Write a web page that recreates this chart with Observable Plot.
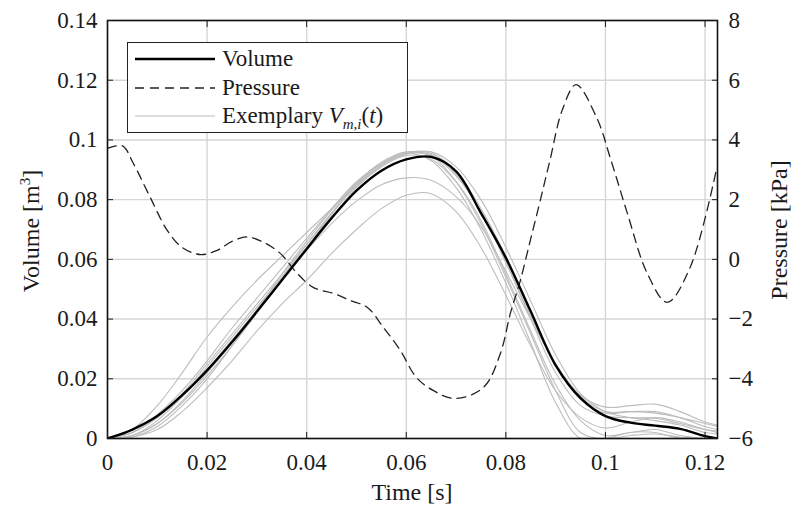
<!DOCTYPE html>
<html><head><meta charset="utf-8">
<script src="https://cdn.jsdelivr.net/npm/d3@7"></script>
<script src="https://cdn.jsdelivr.net/npm/@observablehq/plot@0.6"></script>
<style>
body{margin:0;background:#fff;}
#wrap{position:relative;width:794px;height:511px;font-family:"Liberation Serif","Tinos","Times New Roman","DejaVu Serif",serif;color:#1a1a1a;overflow:hidden;}
.lab{position:absolute;font-size:24px;white-space:nowrap;transform:translate(-50%,-50%);line-height:1;}
.rot{transform:translate(-50%,-50%) rotate(-90deg);}
#legend{position:absolute;left:127px;top:42px;width:279px;height:89px;border:1.6px solid #222;background:#fff;font-size:23px;}
.row{position:absolute;left:0;height:28px;display:flex;align-items:center;}
.row svg{margin-left:7px;margin-right:7px;}
</style></head><body>
<div id="wrap"></div>
<script>
// ---- data ----
const time = [0,0.005,0.01,0.015,0.02,0.025,0.03,0.035,0.04,0.045,0.05,0.055,0.06,0.065,0.07,0.075,0.08,0.085,0.09,0.095,0.1,0.105,0.11,0.115,0.12,0.1225];
const volume = [0,0.003,0.0075,0.0145,0.0228,0.0323,0.0425,0.0530,0.0635,0.0738,0.0830,0.0897,0.0935,0.0943,0.0895,0.0755,0.0605,0.0425,0.0245,0.0135,0.0075,0.0053,0.0043,0.0032,0.0008,0];
const vm1 = [0,0.003,0.011,0.022,0.034,0.044,0.053,0.061,0.069,0.077,0.085,0.091,0.0952,0.0948,0.088,0.076,0.059,0.041,0.025,0.0145,0.0105,0.011,0.0115,0.009,0.0055,0.0045];
const vm2 = [0,0.0005,0.003,0.009,0.017,0.026,0.036,0.045,0.053,0.062,0.070,0.077,0.0815,0.082,0.076,0.064,0.048,0.031,0.016,0.007,0.0035,0.0055,0.007,0.0055,0.003,0.002];
const vm3 = [0,0.002,0.007,0.014,0.023,0.033,0.043,0.053,0.063,0.072,0.0795,0.085,0.0873,0.0865,0.081,0.071,0.056,0.040,0.025,0.014,0.009,0.009,0.0085,0.007,0.005,0.004];
const vm4 = [0,0.001,0.005,0.012,0.021,0.031,0.042,0.053,0.064,0.075,0.085,0.092,0.0955,0.093,0.084,0.070,0.052,0.032,0.012,0,0,0.002,0.002,0,0,0];
const vm5 = [0,0.002,0.007,0.015,0.025,0.035,0.045,0.055,0.065,0.0755,0.0855,0.0925,0.096,0.0945,0.086,0.072,0.054,0.035,0.016,0.002,0,0.001,0.0015,0.0005,0,0];
const vm6 = [0,0.002,0.008,0.016,0.026,0.037,0.047,0.057,0.067,0.077,0.086,0.092,0.0955,0.095,0.0885,0.076,0.059,0.040,0.022,0.011,0.0075,0.007,0.0068,0.005,0.003,0.0025];
const vm7 = [0,0.0005,0.004,0.011,0.020,0.031,0.043,0.055,0.066,0.0765,0.0855,0.092,0.0958,0.0955,0.0895,0.077,0.061,0.043,0.025,0.013,0.0085,0.009,0.009,0.007,0.004,0.003];
const vm8 = [0,0.001,0.005,0.0125,0.022,0.032,0.043,0.054,0.065,0.0755,0.0845,0.0915,0.0955,0.096,0.091,0.080,0.064,0.046,0.028,0.015,0.009,0.007,0.006,0.0045,0.002,0.0015];
const vm9 = [0,0.001,0.006,0.014,0.024,0.034,0.044,0.054,0.064,0.074,0.084,0.091,0.0948,0.0935,0.086,0.073,0.055,0.036,0.018,0.006,0.001,0.002,0.003,0.001,0,0];
const pTime = [0,0.003,0.0052,0.0086,0.012,0.015,0.0187,0.022,0.025,0.028,0.031,0.0347,0.038,0.0413,0.0454,0.0488,0.0522,0.0554,0.0588,0.062,0.0654,0.0698,0.0755,0.0789,0.0809,0.0829,0.0849,0.0869,0.0889,0.0913,0.0941,0.0983,0.101,0.1044,0.1084,0.1124,0.117,0.1224];
const pressure = [3.72,3.8,3.21,2.07,0.97,0.4,0.16,0.3,0.6,0.75,0.6,0.2,-0.45,-0.94,-1.14,-1.38,-1.61,-2.28,-3.05,-3.95,-4.39,-4.66,-4.29,-3.15,-1.81,-0.71,0.63,1.97,3.35,4.99,5.85,4.72,3.38,1.54,-0.47,-1.44,-0.27,3.1];
const xTicks = [0,0.02,0.04,0.06,0.08,0.1,0.12];
const volTicks = [0,0.02,0.04,0.06,0.08,0.1,0.12,0.14];
const presTicks = [-6,-4,-2,0,2,4,6,8];

// ---- derived tables ----
const vMax = 0.14, pMin = -6, pMax = 8;
const pToV = p => (p - pMin) / (pMax - pMin) * vMax;
const vToP = v => v / vMax * (pMax - pMin) + pMin;
const volRows = time.map((t, i) => ({t, v: volume[i]}));
const greyRows = [vm1,vm2,vm3,vm4,vm5,vm6,vm7,vm8,vm9].flatMap((arr, k) => time.map((t, i) => ({id: k, t, v: arr[i]})));
const presRows = pTime.map((t, i) => ({t, p: pressure[i]}));
const fmtNum = d => String(+d.toFixed(2));
const fmtP = p => { const r = Math.round(p); return r < 0 ? "\u2212" + Math.abs(r) : String(r); };

const chart = Plot.plot({
  width: 794, height: 511,
  marginLeft: 107, marginRight: 77, marginTop: 20, marginBottom: 73,
  style: {fontFamily: '"Liberation Serif","Tinos","Times New Roman","DejaVu Serif",serif', fontSize: "23px", color: "#1a1a1a", background: "#fff"},
  x: {domain: [0, 0.1225]},
  y: {domain: [0, vMax]},
  marks: [
    Plot.gridX(xTicks, {stroke: "#d6d6d6", strokeOpacity: 1, strokeWidth: 1.4}),
    Plot.gridY(volTicks, {stroke: "#d6d6d6", strokeOpacity: 1, strokeWidth: 1.4}),
    Plot.line(greyRows, {x: "t", y: "v", z: "id", stroke: "#bdbdbd", strokeWidth: 1.1, curve: "catmull-rom", clip: true}),
    Plot.line(presRows, {x: "t", y: d => pToV(d.p), stroke: "#222", strokeWidth: 1.3, strokeDasharray: "9,6", curve: "catmull-rom", clip: true}),
    Plot.line(volRows, {x: "t", y: "v", stroke: "#000", strokeWidth: 2.4, curve: "catmull-rom", clip: true}),
    Plot.frame({stroke: "#111", strokeWidth: 1.6}),
    Plot.axisX(xTicks, {anchor: "bottom", tickSize: -6, tickPadding: 21, tickFormat: fmtNum, label: null}),
    Plot.axisX(xTicks, {anchor: "top", tickSize: -6, tickFormat: () => "", label: null}),
    Plot.axisY(volTicks, {anchor: "left", tickSize: -6, tickPadding: 16, tickFormat: fmtNum, label: null}),
    Plot.axisY(presTicks.map(pToV), {anchor: "right", tickSize: -6, tickPadding: 17, tickFormat: v => fmtP(vToP(v)), label: null})
  ]
});
const wrap = document.getElementById("wrap");
wrap.appendChild(chart);

function addLabel(text, x, y, rotate) {
  const d = document.createElement("div");
  d.className = "lab" + (rotate ? " rot" : "");
  d.style.left = x + "px"; d.style.top = y + "px";
  d.innerHTML = text;
  wrap.appendChild(d);
}
addLabel("Time [s]", 412, 492, false);
addLabel("Volume [m<sup style='font-size:15px;vertical-align:9px;line-height:0'>3</sup>]", 31, 231, true);
addLabel("Pressure [kPa]", 779, 230, true);

const legendItems = [
  {label: "Volume", stroke: "#000", width: 2.4, dash: null},
  {label: "Pressure", stroke: "#222", width: 1.3, dash: "9,6"},
  {label: "Exemplary <i>V</i><sub style='font-size:15px;line-height:0'><i>m,i</i></sub>(<i>t</i>)", stroke: "#bdbdbd", width: 1.1, dash: null}
];
const lg = document.createElement("div");
lg.id = "legend";
legendItems.forEach((it, i) => {
  const r = document.createElement("div");
  r.className = "row";
  r.style.top = (2 + i * 28.5) + "px";
  r.innerHTML = `<svg width="80" height="10"><line x1="0" y1="5" x2="80" y2="5" stroke="${it.stroke}" stroke-width="${it.width}" ${it.dash ? `stroke-dasharray="${it.dash}"` : ""}/></svg><span>${it.label}</span>`;
  lg.appendChild(r);
});
wrap.appendChild(lg);
</script>
</body></html>
